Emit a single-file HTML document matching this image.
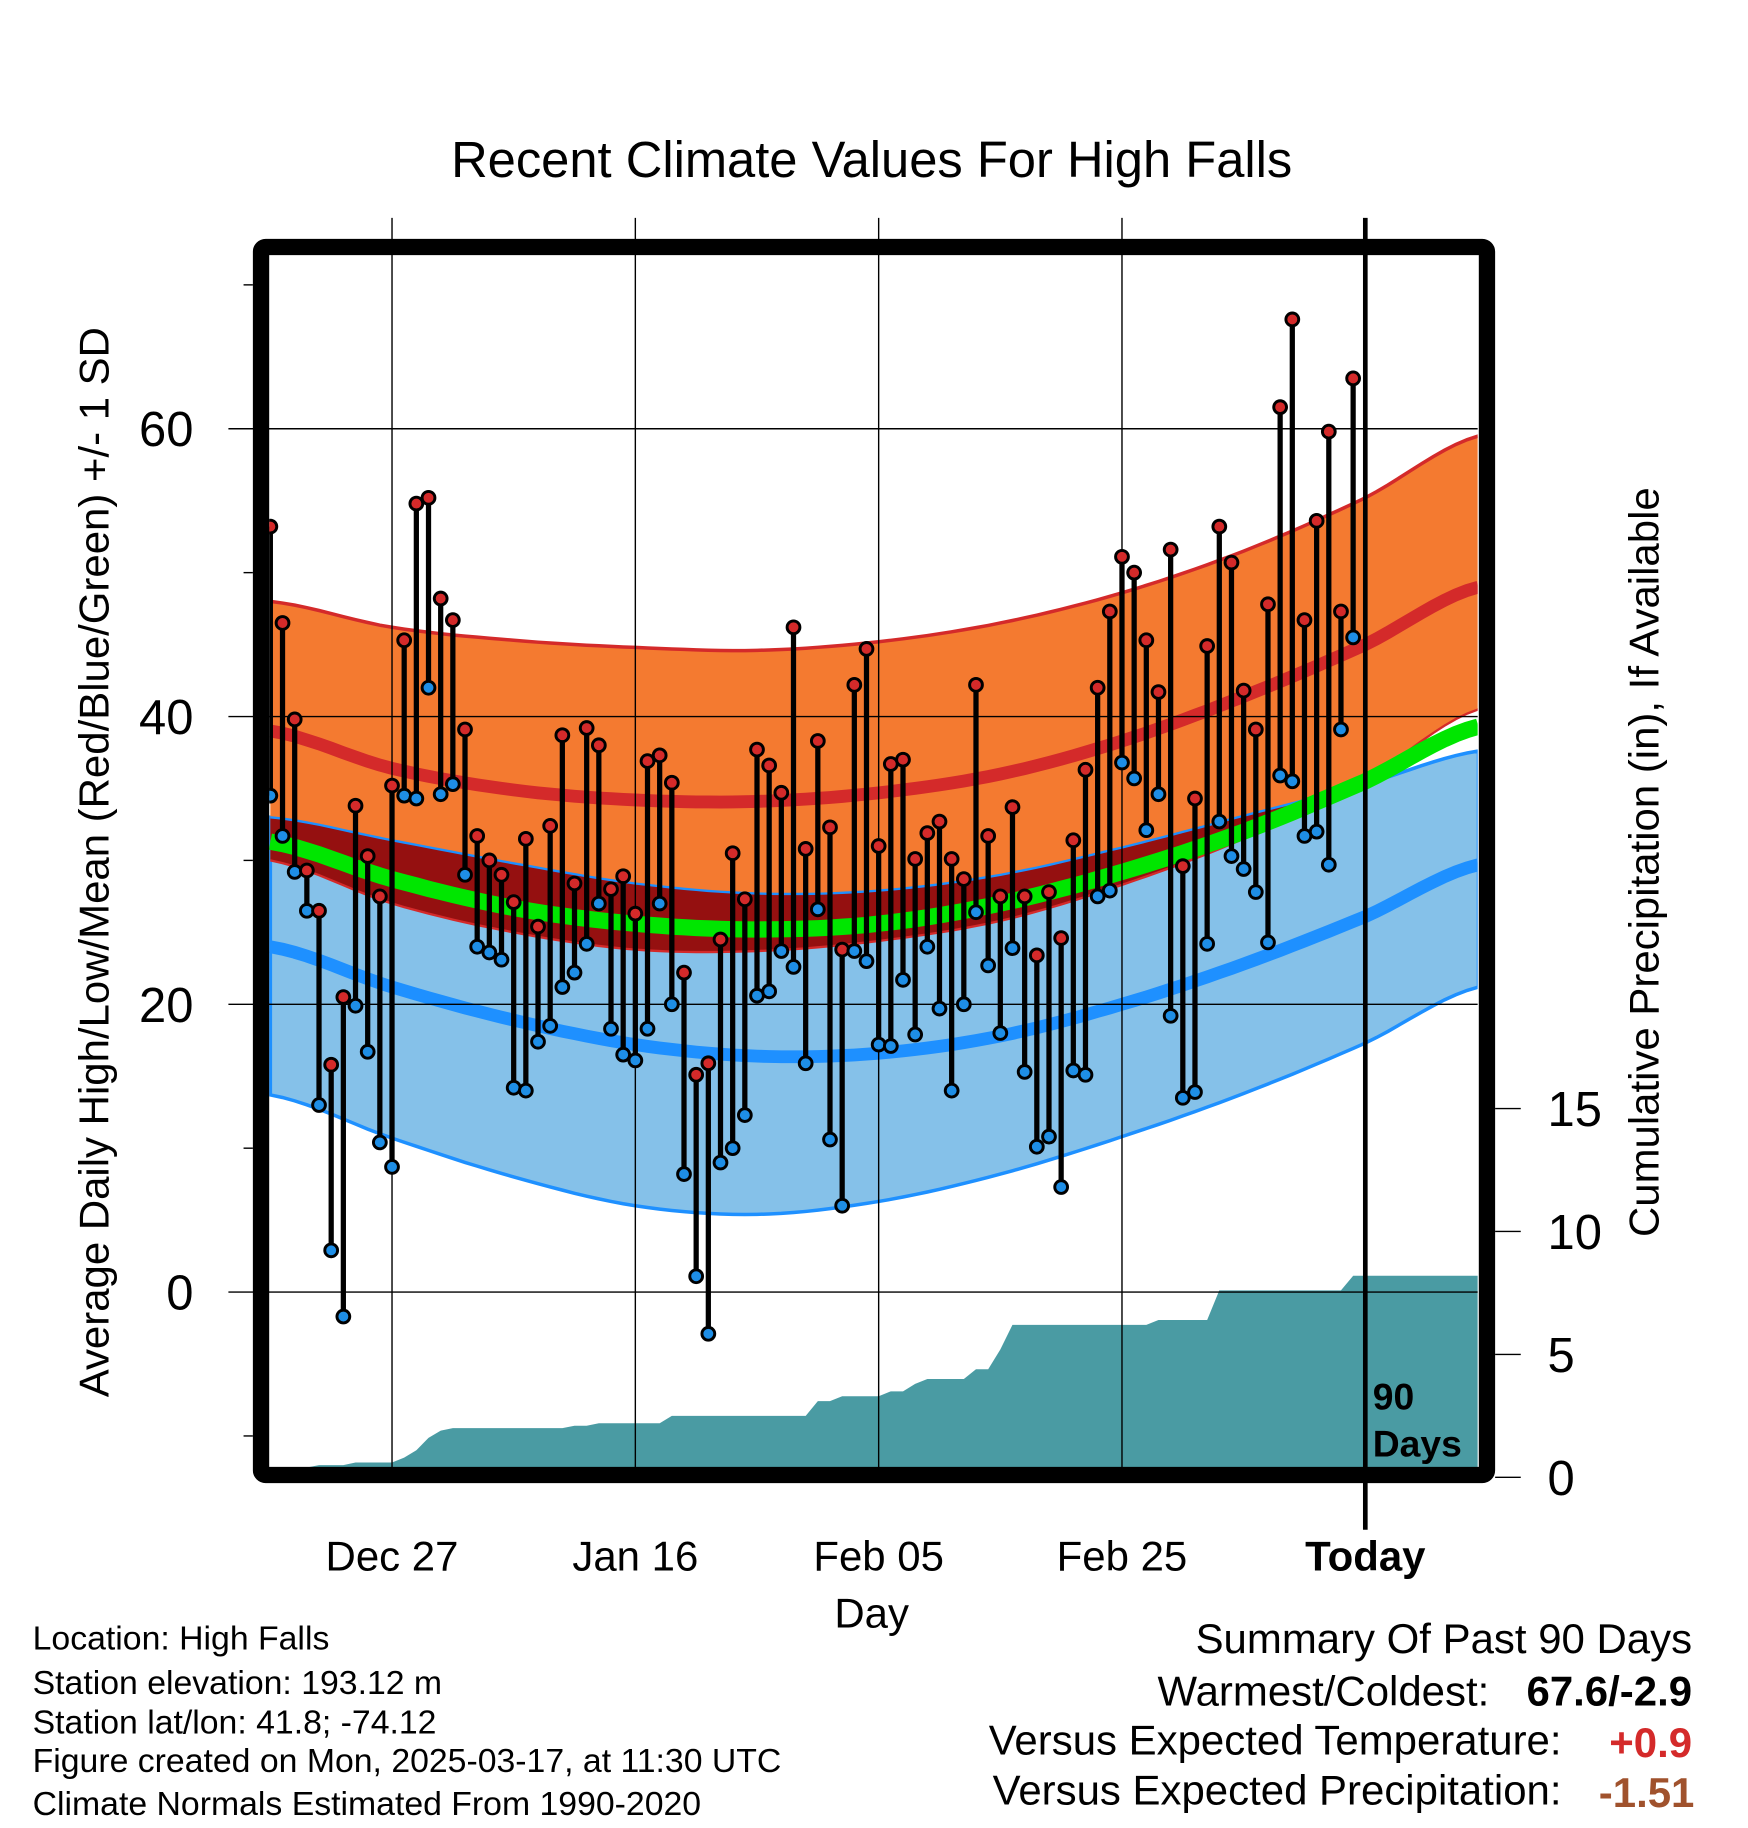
<!DOCTYPE html>
<html><head><meta charset="utf-8"><title>Recent Climate Values For High Falls</title>
<style>
html,body{margin:0;padding:0;background:#fff;}
svg{display:block;font-family:"Liberation Sans",Arial,sans-serif;}
</style></head>
<body>
<svg id="chart" width="1748" height="1828" viewBox="0 0 1500 1569" preserveAspectRatio="none" xmlns="http://www.w3.org/2000/svg">
<defs><clipPath id="plotclip"><rect x="231" y="219" width="1037" height="1041"/></clipPath></defs>
<text x="748" y="152" font-size="43.5" text-anchor="middle">Recent Climate Values For High Falls</text>
<g id="bands" clip-path="url(#plotclip)"></g>
<g id="precip" clip-path="url(#plotclip)"></g>
<g id="grid"></g>
<g id="marks" clip-path="url(#plotclip)"></g>
<rect x="224" y="212" width="1052" height="1054" rx="4" fill="none" stroke="#000" stroke-width="14"/>
<g id="axes"></g>
<text transform="translate(93,740) rotate(-90)" font-size="36" text-anchor="middle">Average Daily High/Low/Mean (Red/Blue/Green) +/- 1 SD</text>
<text transform="translate(1423,740) rotate(-90)" font-size="36" text-anchor="middle">Cumulative Precipitation (in), If Available</text>
<text x="748" y="1397" font-size="36" text-anchor="middle">Day</text>
<text x="1178" y="1210" font-size="32" font-weight="bold">90</text>
<text x="1178" y="1250" font-size="32" font-weight="bold">Days</text>
<g font-size="29">
<text x="28" y="1416">Location: High Falls</text>
<text x="28" y="1454">Station elevation: 193.12 m</text>
<text x="28" y="1488">Station lat/lon: 41.8; -74.12</text>
<text x="28" y="1521">Figure created on Mon, 2025-03-17, at 11:30 UTC</text>
<text x="28" y="1558">Climate Normals Estimated From 1990-2020</text>
</g>
<g font-size="36">
<text x="1452" y="1419" text-anchor="end">Summary Of Past 90 Days</text>
<text x="1278" y="1464" text-anchor="end">Warmest/Coldest:</text>
<text x="1452" y="1464" text-anchor="end" font-weight="bold">67.6/-2.9</text>
<text x="1340" y="1506" text-anchor="end">Versus Expected Temperature:</text>
<text x="1452" y="1508" text-anchor="end" font-weight="bold" fill="#d42a2a">+0.9</text>
<text x="1340" y="1549" text-anchor="end">Versus Expected Precipitation:</text>
<text x="1454" y="1551" text-anchor="end" font-weight="bold" fill="#a0522d">-1.51</text>
</g>
</svg>
<script>
// ---- data ----
const highs=[53.2,46.5,39.8,29.3,26.5,15.8,20.5,33.8,30.3,27.5,35.2,45.3,54.8,55.2,48.2,46.7,39.1,31.7,30,29,27.1,31.5,25.4,32.4,38.7,28.4,39.2,38,28,28.9,26.3,36.9,37.3,35.4,22.2,15.1,15.9,24.5,30.5,27.3,37.7,36.6,34.7,46.2,30.8,38.3,32.3,23.8,42.2,44.7,31,36.7,37,30.1,31.9,32.7,30.1,28.7,42.2,31.7,27.5,33.7,27.5,23.4,27.8,24.6,31.4,36.3,42,47.3,51.1,50,45.3,41.7,51.6,29.6,34.3,44.9,53.2,50.7,41.8,39.1,47.8,61.5,67.6,46.7,53.6,59.8,47.3,63.5];
const lows=[34.5,31.7,29.2,26.5,13,2.9,-1.7,19.9,16.7,10.4,8.7,34.5,34.3,42,34.6,35.3,29,24,23.6,23.1,14.2,14,17.4,18.5,21.2,22.2,24.2,27,18.3,16.5,16.1,18.3,27,20,8.2,1.1,-2.9,9,10,12.3,20.6,20.9,23.7,22.6,15.9,26.6,10.6,6,23.7,23,17.2,17.1,21.7,17.9,24,19.7,14,20,26.4,22.7,18,23.9,15.3,10.1,10.8,7.3,15.4,15.1,27.5,27.9,36.8,35.7,32.1,34.6,19.2,13.5,13.9,24.2,32.7,30.3,29.4,27.8,24.3,35.9,35.5,31.7,32,29.7,39.1,45.5];
const precip=[0.4,0.4,0.4,0.4,0.5,0.5,0.5,0.6,0.6,0.6,0.6,0.8,1.1,1.6,1.9,2.0,2.0,2.0,2.0,2.0,2.0,2.0,2.0,2.0,2.0,2.1,2.1,2.2,2.2,2.2,2.2,2.2,2.2,2.5,2.5,2.5,2.5,2.5,2.5,2.5,2.5,2.5,2.5,2.5,2.5,3.1,3.1,3.3,3.3,3.3,3.3,3.5,3.5,3.8,4.0,4.0,4.0,4.0,4.4,4.4,5.2,6.2,6.2,6.2,6.2,6.2,6.2,6.2,6.2,6.2,6.2,6.2,6.2,6.4,6.4,6.4,6.4,6.4,7.6,7.6,7.6,7.6,7.6,7.6,7.6,7.6,7.6,7.6,7.6,8.2];
const normDays=[0,10,20,30,40,50,60,70,80,90,99.3];
const normHigh=[39,36.4,34.9,34.2,34.1,34.7,36,38.3,41.4,45,49];
const normHighUp=[48,46.2,45.3,44.8,44.6,45.2,46.5,48.6,51.5,55.2,59.5];
const normHighDn=[30,27,25,23.8,23.7,24.4,25.8,28.3,31.5,35.6,40.5];
const normLow=[24,21.2,18.9,17.2,16.4,16.6,17.8,20,22.8,26.1,29.7];
const normLowUp=[33,31.4,29.8,28.4,27.7,27.9,29,30.9,33.1,35.3,37.6];
const normLowDn=[13.7,10.7,8,6,5.4,6.3,8.2,10.8,13.8,17.3,21.2];
const normMean=[31.3,28.7,26.7,25.6,25.2,25.6,27,29.2,32,35.5,39.3];
const yTicks=[0,20,40,60];
const yMinor=[-10,10,30,50,70];
const pTicks=[0,5,10,15];
const xTickDays=[10,30,50,70,90];
const xTickLabels=["Dec 27","Jan 16","Feb 05","Feb 25","Today"];
// ---- scales ----
const X=d=>232+10.44*d;
const Y=t=>1109-12.35*t;
const P=v=>1268-21.1*v;
const NS="http://www.w3.org/2000/svg";
function mk(tag,attrs,parent){const e=document.createElementNS(NS,tag);for(const k in attrs)e.setAttribute(k,attrs[k]);parent.appendChild(e);return e;}
function curve(vals){const pts=[];const n=vals.length;
 for(let i=0;i<n-1;i++){const p0=vals[Math.max(i-1,0)],p1=vals[i],p2=vals[i+1],p3=vals[Math.min(i+2,n-1)];
  const d0=normDays[i],d1=normDays[i+1];
  for(let s=0;s<10;s++){const t=s/10;const v=0.5*((2*p1)+(-p0+p2)*t+(2*p0-5*p1+4*p2-p3)*t*t+(-p0+3*p1-3*p2+p3)*t*t*t);pts.push([d0+(d1-d0)*t,v]);}}
 pts.push([normDays[n-1],vals[n-1]]);return pts;}
const path=pts=>pts.map((p,i)=>(i?'L':'M')+X(p[0]).toFixed(1)+' '+Y(p[1]).toFixed(1)).join(' ');
const band=(a,b)=>{const A=curve(a),B=curve(b).reverse();return path(A)+' '+B.map(p=>'L'+X(p[0]).toFixed(1)+' '+Y(p[1]).toFixed(1)).join(' ')+' Z';};
const bands=document.getElementById('bands');
let e;
e=mk('path',{d:band(normLowUp,normLowDn),fill:'#85c1e9',stroke:'#1e90ff','stroke-width':3},bands);

e=mk('path',{d:band(normHighUp,normHighDn),fill:'#f47a30',stroke:'none'},bands);

const ov=normLowUp.map((v,i)=>Math.max(v,normHighDn[i]));
e=mk('path',{d:band(ov,normHighDn),fill:'#951010',stroke:'none'},bands);

e=mk('path',{d:path(curve(normHighUp)),fill:'none',stroke:'#d42a2a','stroke-width':3},bands);

e=mk('path',{d:path(curve(normHighDn)),fill:'none',stroke:'#d42a2a','stroke-width':2},bands);

e=mk('path',{d:path(curve(normLowUp)),fill:'none',stroke:'#1e90ff','stroke-width':2},bands);

e=mk('path',{d:path(curve(normHigh)),fill:'none',stroke:'#d42a2a','stroke-width':11},bands);

e=mk('path',{d:path(curve(normLow)),fill:'none',stroke:'#1e90ff','stroke-width':11},bands);

e=mk('path',{d:path(curve(normMean)),fill:'none',stroke:'#00e600','stroke-width':14},bands);

// precipitation
const pg=document.getElementById('precip');
let pd='M'+X(0)+' 1262';precip.forEach((v,i)=>{pd+=' L'+X(i).toFixed(1)+' '+P(v).toFixed(1);});
pd+=' L1270 '+P(precip[precip.length-1]).toFixed(1)+' L1270 1262 Z';
e=mk('path',{d:pd,fill:'#4a9ba3',stroke:'none'},pg);

// grid
const grid=document.getElementById('grid');
yTicks.forEach(t=>{e=mk('line',{x1:196,x2:1268,y1:Y(t),y2:Y(t),stroke:'#000','stroke-width':1.2},grid);
 });
xTickDays.forEach((d,i)=>{const last=i===xTickDays.length-1;
 e=mk('line',{x1:X(d),x2:X(d),y1:187,y2:last?1313:1262,stroke:'#000','stroke-width':last?4:1.2},grid);
 });
// marks
const mg=document.getElementById('marks');
highs.forEach((h,i)=>{const l=lows[i];
 e=mk('line',{x1:X(i),x2:X(i),y1:Y(h),y2:Y(l),stroke:'#000','stroke-width':4.5},mg);
 });
highs.forEach((h,i)=>{
 e=mk('circle',{cx:X(i),cy:Y(lows[i]),r:5.5,fill:'#1e8ee6',stroke:'#000','stroke-width':2.5},mg);
 
 e=mk('circle',{cx:X(i),cy:Y(h),r:5.5,fill:'#d42a2a',stroke:'#000','stroke-width':2.5},mg);
 });
// axes labels
const ax=document.getElementById('axes');
yTicks.forEach(t=>{e=mk('text',{x:166,y:Y(t)+15,'font-size':42,'text-anchor':'end'},ax);e.textContent=t;
 });
yMinor.forEach(t=>{e=mk('line',{x1:209,x2:217,y1:Y(t),y2:Y(t),stroke:'#000','stroke-width':1.2},ax);
 });
pTicks.forEach(v=>{e=mk('line',{x1:1283,x2:1305,y1:P(v),y2:P(v),stroke:'#000','stroke-width':1.2},ax);
 
 e=mk('text',{x:1328,y:P(v)+15,'font-size':42},ax);e.textContent=v;
 });
xTickDays.forEach((d,i)=>{e=mk('text',{x:X(d),y:1348,'font-size':36,'text-anchor':'middle','font-weight':i===4?'bold':'normal'},ax);e.textContent=xTickLabels[i];
 });
</script>
</body></html>
